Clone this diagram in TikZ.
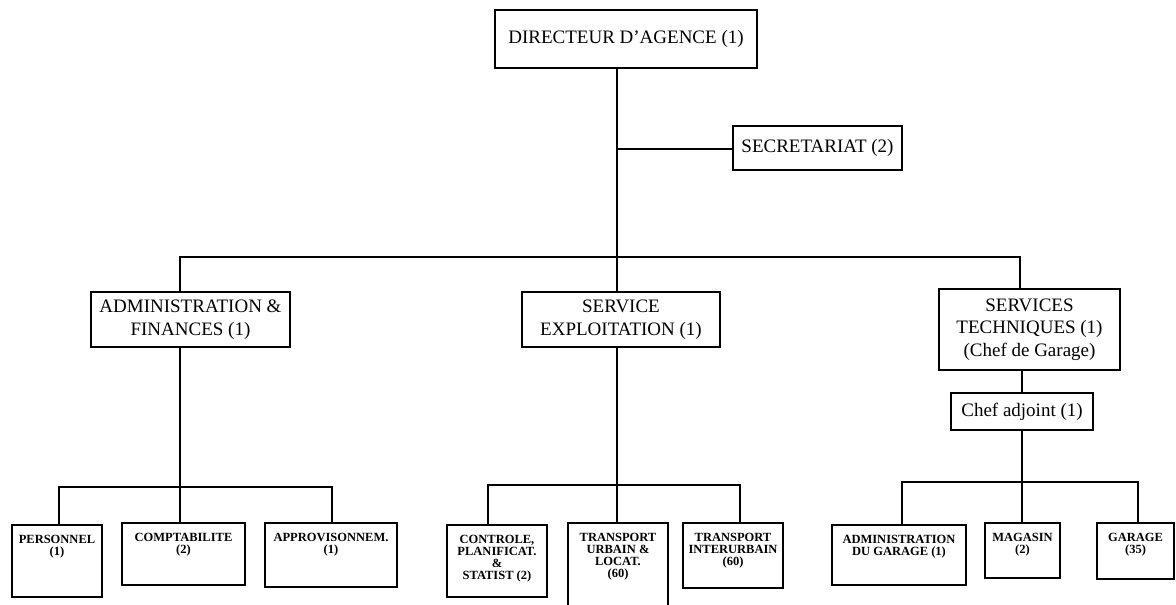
\documentclass[tikz,border=0pt]{standalone}
\usepackage{fontspec}
\setmainfont{Liberation Serif}
\begin{document}
\begin{tikzpicture}[x=1pt,y=-1pt,
  box/.style={draw=black,line width=1.5pt,inner sep=0pt,align=center,
    font=\fontsize{19}{22.5}\selectfont},
  sbox/.style={draw=black,line width=1.5pt,inner sep=0pt},
  stxt/.style={anchor=north,inner sep=0pt,yshift=-11pt,align=center,
    font=\bfseries\fontsize{12.5}{12}\selectfont},
  conn/.style={draw=black,line width=1.9pt}]
\path[use as bounding box,clip] (0,0) rectangle (1176,605);
\fill[white] (0,0) rectangle (1176,605);

% top level
\node[box,minimum width=262pt,minimum height=58pt] (dir) at (626,39) {DIRECTEUR D'AGENCE (1)};
\node[box,minimum width=169pt,minimum height=44pt] (sec) at (817.5,148) {SECRETARIAT (2)};

% department heads
\node[box,minimum width=199pt,minimum height=55pt] (adm) at (190.5,319.5) {ADMINISTRATION \&\\FINANCES (1)};
\node[box,minimum width=198pt,minimum height=55pt] (exp) at (621,319.5) {SERVICE\\EXPLOITATION (1)};
\node[box,minimum width=181pt,minimum height=81pt] (tech) at (1029.5,329.5) {SERVICES\\TECHNIQUES (1)\\(Chef de Garage)};
\node[box,minimum width=142pt,minimum height=37pt] (adj) at (1022,411.5) {Chef adjoint (1)};

% sections
\node[sbox,minimum width=90pt,minimum height=72pt,label={[stxt]north:PERSONNEL\\(1)}] (pers) at (57,561) {};
\node[sbox,minimum width=123pt,minimum height=62pt,label={[stxt]north:COMPTABILITE\\(2)}] (comp) at (183.5,554) {};
\node[sbox,minimum width=132pt,minimum height=64pt,label={[stxt]north:APPROVISONNEM.\\(1)}] (appr) at (331,555) {};

\node[sbox,minimum width=100pt,minimum height=72pt,label={[stxt]north:CONTROLE,\\PLANIFICAT.\\\&\\STATIST (2)}] (ctl) at (497,561) {};
\node[sbox,minimum width=100pt,minimum height=107pt,label={[stxt]north:TRANSPORT\\URBAIN \&\\LOCAT.\\(60)}] (urb) at (618,576.5) {};
\node[sbox,minimum width=100pt,minimum height=65pt,label={[stxt]north:TRANSPORT\\INTERURBAIN\\(60)}] (itu) at (733,555.5) {};

\node[sbox,minimum width=134pt,minimum height=60pt,label={[stxt]north:ADMINISTRATION\\DU GARAGE (1)}] (admg) at (899,555) {};
\node[sbox,minimum width=75pt,minimum height=55pt,label={[stxt]north:MAGASIN\\(2)}] (mag) at (1022.5,550.5) {};
\node[sbox,minimum width=77pt,minimum height=56pt,label={[stxt]north:GARAGE\\(35)}] (gar) at (1135.5,551) {};

% junction points of the connector lines
\coordinate (j1) at (617,149);
\coordinate (busL) at (180,257);
\coordinate (busC) at (617,257);
\coordinate (busR) at (1020,257);
\coordinate (lL) at (59,487);
\coordinate (lC) at (180,487);
\coordinate (lR) at (332,487);
\coordinate (mL) at (488,485);
\coordinate (mC) at (617,485);
\coordinate (mR) at (740,485);
\coordinate (rL) at (902,482);
\coordinate (rC) at (1022,482);
\coordinate (rR) at (1138,482);

% connectors
\draw[conn] (dir.south -| j1) -- (busC) -- (exp.north -| busC);
\draw[conn] (j1) -- (sec.west |- j1);
\draw[conn] (adm.north -| busL) -- (busL) -- (busR) -- (tech.north -| busR);

\draw[conn] (adm.south -| lC) -- (lC) -- (comp.north -| lC);
\draw[conn] (pers.north -| lL) -- (lL) -- (lR) -- (appr.north -| lR);

\draw[conn] (exp.south -| mC) -- (mC) -- (urb.north -| mC);
\draw[conn] (ctl.north -| mL) -- (mL) -- (mR) -- (itu.north -| mR);

\draw[conn] (tech.south -| adj.north) -- (adj.north);
\draw[conn] (adj.south -| rC) -- (rC) -- (mag.north -| rC);
\draw[conn] (admg.north -| rL) -- (rL) -- (rR) -- (gar.north -| rR);
\end{tikzpicture}
\end{document}
